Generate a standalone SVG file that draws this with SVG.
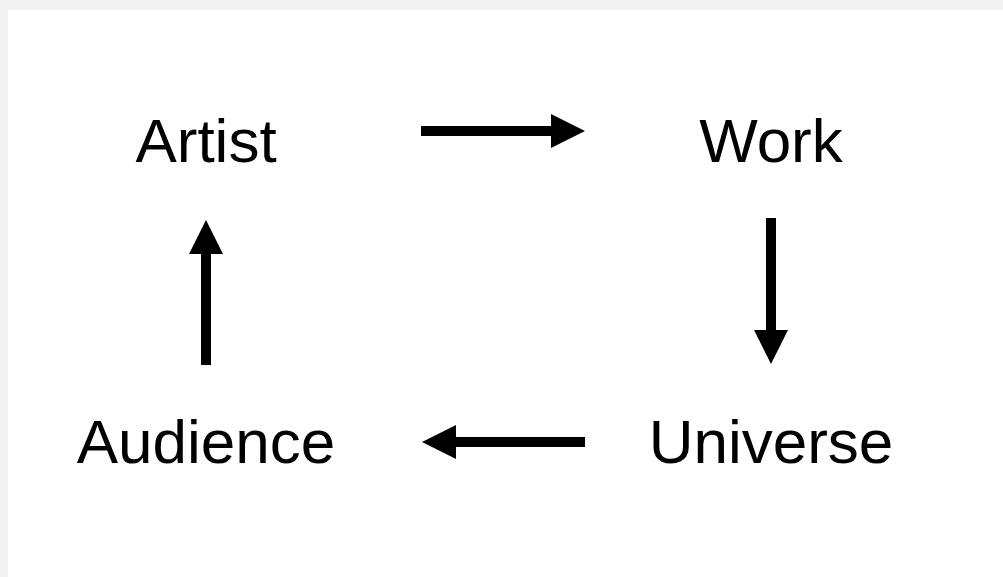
<svg xmlns="http://www.w3.org/2000/svg" width="1003" height="577" viewBox="0 0 1003 577">
  <style>
    .label { font-family: "Liberation Sans", Arial, sans-serif; font-size: 62px; fill: #000; text-anchor: middle; }
    .conn { stroke: #000; stroke-width: 10; fill: none; marker-end: url(#head); }
  </style>
  <defs>
    <marker id="head" markerUnits="userSpaceOnUse" viewBox="0 0 34 34" markerWidth="34" markerHeight="34" refX="1" refY="17" orient="auto">
      <path d="M0,0 L34,17 L0,34 Z" fill="#000"/>
    </marker>
  </defs>
  <rect x="0" y="0" width="1003" height="577" fill="#f2f2f2"/>
  <rect x="8" y="10" width="995" height="567" fill="#ffffff"/>
  <g id="connectors">
    <line class="conn" x1="421" y1="131" x2="552" y2="131"/>
    <line class="conn" x1="771" y1="218" x2="771" y2="331"/>
    <line class="conn" x1="585" y1="442" x2="455" y2="442"/>
    <line class="conn" x1="206" y1="365" x2="206" y2="253"/>
  </g>
  <g id="artist"><text class="label" x="206" y="162">Artist</text></g>
  <g id="work"><text class="label" x="771" y="162">Work</text></g>
  <g id="universe"><text class="label" x="771" y="463">Universe</text></g>
  <g id="audience"><text class="label" x="206" y="463">Audience</text></g>
</svg>
